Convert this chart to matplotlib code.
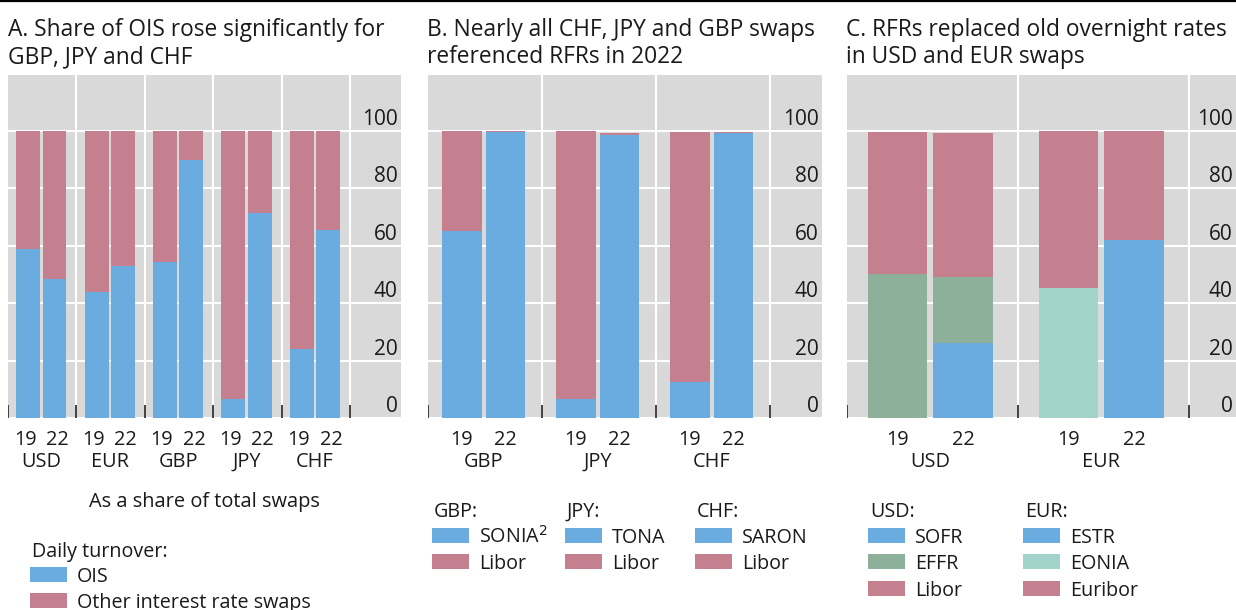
import matplotlib
matplotlib.use("Agg")
import numpy as np
import matplotlib.pyplot as plt
from matplotlib.patches import Rectangle
from matplotlib.lines import Line2D
from matplotlib.transforms import blended_transform_factory

plt.rcParams.update({"font.family": ["Open Sans", "DejaVu Sans"], "font.size": 14})

BLUE = "#6aace0"; PINK = "#c4808f"; GREEN = "#8cb09a"; TEAL = "#a2d4cc"
BG = "#d9d9d9"; INK = "#1a1a1a"

YEARS = ["19", "22"]

# Panel A: OIS share of daily turnover, % of total swaps
A_CCY = ["USD", "EUR", "GBP", "JPY", "CHF"]
A_OIS_19 = [59, 44, 54.5, 6.5, 24]
A_OIS_22 = [48.5, 53, 90, 71.5, 65.5]
A_OTHER_19 = [100 - v for v in A_OIS_19]
A_OTHER_22 = [100 - v for v in A_OIS_22]

# Panel B: RFR vs Libor
B_CCY = ["GBP", "JPY", "CHF"]
B_RFR_19 = [65, 6.5, 12.5]
B_LIBOR_19 = [35, 93.5, 87]
B_RFR_22 = [99.7, 98.5, 99.2]
B_LIBOR_22 = [0.3, 0.7, 0.3]

# Panel C: USD and EUR benchmarks
C_CCY = ["USD", "EUR"]
C_NEW_19 = [0, 0]          # SOFR / ESTR
C_NEW_22 = [26, 62]
C_OLD_19 = [50, 45.3]      # EFFR / EONIA
C_OLD_22 = [23, 0]
C_IBOR_19 = [49.5, 54.7]   # Libor / Euribor
C_IBOR_22 = [50.3, 38]

W, H = 1236, 610
fig = plt.figure(figsize=(W / 100, H / 100), dpi=100)


def fx(px):
    return px / W


def fy(py):
    return 1 - py / H


YMAX = 119.5
BW = 0.35
OFF = [0.295, 0.68]


def make_axes(left, right, ngroups, xmax):
    ax = fig.add_axes([fx(left), fy(418), fx(right - left), (418 - 75) / H])
    ax.set_facecolor(BG)
    ax.set_xlim(0, xmax)
    ax.set_ylim(0, YMAX)
    for s in ax.spines.values():
        s.set_visible(False)
    ax.set_xticks([]); ax.set_yticks([])
    for v in range(0, 101, 20):
        ax.axhline(v, color="white", lw=1.5, zorder=0)
    for g in range(1, ngroups + 1):
        ax.axvline(g, color="white", lw=1.5, zorder=0)
    ax.vlines(np.arange(ngroups + 1), 0, 4.5, color="#333333", lw=1.3, zorder=1)
    tr = blended_transform_factory(ax.transAxes, ax.transData)
    for v in range(0, 101, 20):
        ax.text(0.991, v + 2.1, str(v), transform=tr, ha="right", va="baseline",
                fontsize=15, color=INK)
    return ax


def xlabels(ax, names, off=OFF):
    tr = blended_transform_factory(ax.transData, fig.transFigure)
    for g, name in enumerate(names):
        for k, yr in enumerate(YEARS):
            ax.text(g + off[k], fy(445), yr, transform=tr, ha="center",
                    va="baseline", fontsize=14.3, color=INK)
        ax.text(g + (OFF[0] + OFF[1]) / 2, fy(467), name, transform=tr,
                ha="center", va="baseline", fontsize=14.3, color=INK)


def title(x, lines):
    for py, t in zip([36, 63], lines):
        fig.text(fx(x), fy(py), t, ha="left", va="baseline", fontsize=16.4, color=INK)


# Panel A
axA = make_axes(8, 401, 5, 5.745)
xa = np.arange(len(A_CCY))
axA.bar(xa + OFF[0], A_OIS_19, BW, color=BLUE, zorder=2)
axA.bar(xa + OFF[0], A_OTHER_19, BW, bottom=A_OIS_19, color=PINK, zorder=2)
axA.bar(xa + OFF[1], A_OIS_22, BW, color=BLUE, zorder=2)
axA.bar(xa + OFF[1], A_OTHER_22, BW, bottom=A_OIS_22, color=PINK, zorder=2)
xlabels(axA, A_CCY, off=[0.25, 0.72])
title(8, ["A. Share of OIS rose significantly for", "GBP, JPY and CHF"])

# Panel B
axB = make_axes(428, 822, 3, 3.456)
xb = np.arange(len(B_CCY))
axB.bar(xb + OFF[0], B_RFR_19, BW, color=BLUE, zorder=2)
axB.bar(xb + OFF[0], B_LIBOR_19, BW, bottom=B_RFR_19, color=PINK, zorder=2)
axB.bar(xb + OFF[1], B_RFR_22, BW, color=BLUE, zorder=2)
axB.bar(xb + OFF[1], B_LIBOR_22, BW, bottom=B_RFR_22, color=PINK, zorder=2)
xlabels(axB, B_CCY)
title(427, ["B. Nearly all CHF, JPY and GBP swaps", "referenced RFRs in 2022"])

# Panel C
axC = make_axes(847, 1236, 2, 2.275)
xc = np.arange(len(C_CCY))
old_cols = [GREEN, TEAL]
for k, (new, old, ibor) in enumerate([(C_NEW_19, C_OLD_19, C_IBOR_19),
                                       (C_NEW_22, C_OLD_22, C_IBOR_22)]):
    new = np.array(new); old = np.array(old); ibor = np.array(ibor)
    axC.bar(xc + OFF[k], new, BW, color=BLUE, zorder=2)
    axC.bar(xc + OFF[k], old, BW, bottom=new, color=old_cols, zorder=2)
    axC.bar(xc + OFF[k], ibor, BW, bottom=new + old, color=PINK, zorder=2)
xlabels(axC, C_CCY)
title(846, ["C. RFRs replaced old overnight rates", "in USD and EUR swaps"])

# rule across the top
fig.add_artist(Line2D([0, 1], [fy(0.8), fy(0.8)], color="black", lw=1.6))

# legends
fig.text(fx(204.5), fy(507), "As a share of total swaps", ha="center", va="baseline",
         fontsize=14.4, color=INK)


def legend_block(x, head, head_y, entries, y0, step=26.3, tx=47):
    fig.text(fx(x), fy(head_y), head, ha="left", va="baseline", fontsize=14.2, color=INK)
    for i, (lab, col) in enumerate(entries):
        base = y0 + i * step
        fig.add_artist(Rectangle((fx(x - 2), fy(base)), fx(37), 15 / H,
                                 transform=fig.transFigure, facecolor=col, lw=0))
        fig.text(fx(x - 2 + tx), fy(base), lab, ha="left", va="baseline",
                 fontsize=14.2, color=INK)


legend_block(32, "Daily turnover:", 557, [("OIS", BLUE), ("Other interest rate swaps", PINK)], 582)
legend_block(434, "GBP:", 517, [("SONIA$^2$", BLUE), ("Libor", PINK)], 543)
legend_block(567, "JPY:", 517, [("TONA", BLUE), ("Libor", PINK)], 543)
legend_block(697, "CHF:", 517, [("SARON", BLUE), ("Libor", PINK)], 543)
legend_block(870, "USD:", 517, [("SOFR", BLUE), ("EFFR", GREEN), ("Libor", PINK)], 543)
legend_block(1025, "EUR:", 517, [("ESTR", BLUE), ("EONIA", TEAL), ("Euribor", PINK)], 543)

fig.savefig("out.png", dpi=100, facecolor="white")
